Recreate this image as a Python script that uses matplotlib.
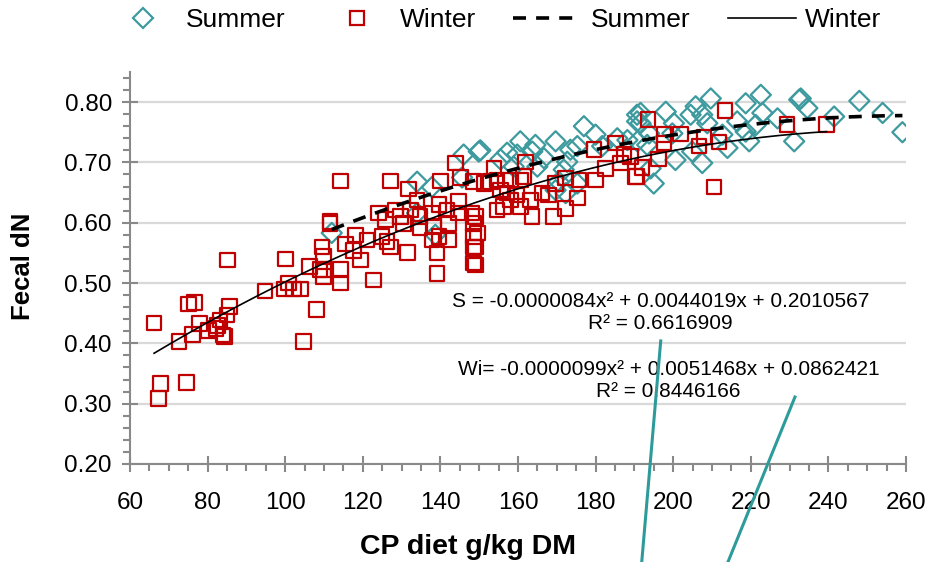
import numpy as np
import matplotlib.pyplot as plt
from matplotlib.lines import Line2D
from matplotlib.ticker import MultipleLocator

plt.rcParams['font.family'] = ['Liberation Sans', 'DejaVu Sans']

# Summer: dietary CP (g/kg DM) and fecal dN
summer_cp = [112.0, 134.0, 137.8, 146.0, 149.9, 145.6, 134.0, 138.7,
             150.3, 155.5, 160.6, 164.5, 163.7, 159.8, 166.7, 169.7, 173.5, 177.0,
             180.0, 175.3, 172.7, 171.8, 170.5, 169.7, 172.3, 185.6, 188.2, 190.7,
             190.7, 181.7, 175.3, 165.0, 157.2, 158.9,
             191.6, 191.6, 198.1, 193.8, 190.8, 193.3, 195.0, 194.2, 200.2, 199.8,
             200.6, 204.5, 205.8, 207.5, 209.7, 208.8, 204.9, 207.5, 212.7, 214.0,
             216.5, 218.7, 218.7, 219.6, 222.6, 223.0, 221.3, 226.9, 231.2, 232.5,
             232.9, 234.6, 241.5, 248.0, 254.0, 259.1]
summer_dn = [0.583, 0.668, 0.659, 0.713, 0.718, 0.675, 0.616, 0.580,
             0.720, 0.705, 0.735, 0.729, 0.718, 0.713, 0.707, 0.735, 0.721, 0.760,
             0.746, 0.727, 0.701, 0.688, 0.668, 0.654, 0.649, 0.740, 0.737, 0.779,
             0.768, 0.727, 0.665, 0.693, 0.716, 0.693,
             0.782, 0.765, 0.784, 0.748, 0.735, 0.729, 0.665, 0.690, 0.765, 0.748,
             0.704, 0.779, 0.793, 0.779, 0.806, 0.765, 0.718, 0.699, 0.746, 0.724,
             0.768, 0.798, 0.751, 0.735, 0.812, 0.782, 0.762, 0.773, 0.735, 0.804,
             0.806, 0.790, 0.776, 0.802, 0.782, 0.750]

# Winter
winter_cp = [66.2, 67.9, 67.3, 74.6, 72.6, 75.1, 76.6, 76.1, 77.9, 80.2, 82.5, 83.2,
             84.3, 84.0, 85.1, 85.7, 85.0, 82.2, 94.8, 100.1, 99.8, 100.9, 102.1, 103.9,
             104.7, 108.0, 106.3, 109.5, 109.9, 109.0, 109.9, 111.6,
             114.2, 127.1, 131.8, 140.0, 143.9, 145.2, 148.6, 111.6, 115.5, 118.1,
             117.6, 119.4, 114.2, 114.2, 109.9, 122.8, 121.1, 124.1, 125.8, 125.0,
             126.2, 127.1, 128.4, 129.7, 130.5, 131.5, 132.3, 134.0, 134.8, 134.8,
             138.3, 137.8, 139.6, 139.6, 137.8, 141.7, 142.1, 142.1, 139.1, 139.1,
             144.7, 144.7, 148.1, 148.6, 148.6, 148.6, 148.6,
             149.0, 149.5, 149.0, 149.0, 153.8, 151.2, 152.9, 154.6, 155.5, 158.1,
             160.6, 161.9, 161.5, 157.2, 154.6, 156.3, 158.1, 159.8, 160.6, 163.6,
             163.2, 166.2, 167.9, 169.7, 169.2, 172.3, 172.3, 175.3, 175.7, 180.0,
             179.6, 182.6, 185.2, 186.5, 187.3, 190.3,
             193.5, 197.6, 197.6, 201.9, 196.3, 192.0, 190.6, 189.0, 206.7, 207.9,
             211.8, 213.4, 210.5, 229.4, 239.5]
winter_dn = [0.434, 0.333, 0.309, 0.335, 0.403, 0.465, 0.468, 0.415, 0.433, 0.421, 0.430, 0.439,
             0.411, 0.414, 0.538, 0.461, 0.447, 0.425, 0.487, 0.540, 0.490, 0.500, 0.490, 0.490,
             0.403, 0.456, 0.527, 0.560, 0.544, 0.522, 0.511, 0.599,
             0.669, 0.669, 0.656, 0.669, 0.699, 0.675, 0.668, 0.602, 0.565, 0.580,
             0.554, 0.538, 0.522, 0.500, 0.522, 0.505, 0.571, 0.616, 0.605, 0.577,
             0.569, 0.560, 0.621, 0.610, 0.599, 0.551, 0.621, 0.638, 0.610, 0.591,
             0.594, 0.571, 0.577, 0.630, 0.616, 0.621, 0.599, 0.571, 0.550, 0.516,
             0.635, 0.616, 0.616, 0.599, 0.577, 0.560, 0.533,
             0.610, 0.583, 0.560, 0.530, 0.690, 0.665, 0.668, 0.671, 0.654, 0.671,
             0.671, 0.701, 0.677, 0.649, 0.621, 0.627, 0.638, 0.646, 0.627, 0.610,
             0.638, 0.649, 0.646, 0.665, 0.610, 0.624, 0.674, 0.641, 0.671, 0.671,
             0.721, 0.690, 0.732, 0.699, 0.713, 0.677,
             0.771, 0.746, 0.732, 0.747, 0.706, 0.692, 0.677, 0.710, 0.727, 0.742,
             0.734, 0.786, 0.659, 0.763, 0.763]

# quadratic trendlines (a, b, c) and R²
summer_fit = [-0.0000084, 0.0044019, 0.2010567]
summer_r2 = 0.6616909
winter_fit = [-0.0000099, 0.0051468, 0.0862421]
winter_r2 = 0.8446166

TEAL = '#3D9A9E'
RED = '#C00000'
GRAY = '#898989'
DASH = (3.6, 2.8)

fig = plt.figure(figsize=(9.32, 5.62), dpi=100)
ax = fig.add_axes([0.1395, 0.1744, 0.8325, 0.6976])

ax.scatter(summer_cp, summer_dn, marker='D', s=105, facecolors='none',
           edgecolors=TEAL, linewidths=1.6, zorder=3)
ax.scatter(winter_cp, winter_dn, marker='s', s=110, facecolors='none',
           edgecolors=RED, linewidths=1.6, zorder=3)

xs = np.linspace(min(summer_cp), max(summer_cp), 200)
ax.plot(xs, np.polyval(summer_fit, xs), color='black', lw=2.6,
        dashes=DASH, zorder=4)
xw = np.linspace(min(winter_cp), max(winter_cp), 200)
ax.plot(xw, np.polyval(winter_fit, xw), color='black', lw=1.2, zorder=4)


def coef(v):
    return f'{v:.7f}'


ax.text(196.8, 0.451,
        f'S = {coef(summer_fit[0])}x² + {coef(summer_fit[1])}x + {coef(summer_fit[2])}\n'
        f'R² = {summer_r2:.7f}',
        ha='center', va='center', multialignment='center', fontsize=15, zorder=5)
ax.text(198.8, 0.338,
        f'Wi= {coef(winter_fit[0])}x² + {coef(winter_fit[1])}x + {coef(winter_fit[2])}\n'
        f'R² = {winter_r2:.7f}',
        ha='center', va='center', multialignment='center', fontsize=15, zorder=5)

# leader lines from the trendline labels
leaders = [((196.8, 0.404), (191.9, 0.037)), ((231.4, 0.311), (214.1, 0.037))]
for (x0, y0), (x1, y1) in leaders:
    ax.plot([x0, x1], [y0, y1], color='#2E9B9B', lw=2.2, clip_on=False, zorder=6)

ax.set_xlim(60, 260)
ax.set_ylim(0.20, 0.85)
ax.xaxis.set_major_locator(MultipleLocator(20))
ax.xaxis.set_minor_locator(MultipleLocator(5))
yticks = [0.2, 0.3, 0.4, 0.5, 0.6, 0.7, 0.8]
ax.set_yticks(yticks)
ax.set_yticklabels([f'{v:.2f}' for v in yticks])
ax.yaxis.set_minor_locator(MultipleLocator(0.02))

for s in ['top', 'right']:
    ax.spines[s].set_visible(False)
for s in ['left', 'bottom']:
    ax.spines[s].set_color(GRAY)
    ax.spines[s].set_linewidth(1.5)

ax.tick_params(which='major', direction='inout', length=11, width=1.5,
               color=GRAY, labelsize=17.5)
ax.tick_params(axis='x', which='major', pad=15)
ax.tick_params(axis='y', which='major', pad=7.5)
ax.tick_params(which='minor', direction='out', length=5, width=1.5, color=GRAY)
ax.grid(axis='y', which='major', color='#D9D9D9', lw=1.6, zorder=0)
ax.set_axisbelow(True)

ax.set_xlabel('CP diet g/kg DM', fontsize=20.5, fontweight='bold')
ax.xaxis.set_label_coords(0.436, -0.178)
ax.set_ylabel('Fecal dN', fontsize=18.5, fontweight='bold')
ax.yaxis.set_label_coords(-0.122, 0.505)

handles = [
    Line2D([], [], ls='none', marker='D', markersize=10, markerfacecolor='none',
           markeredgecolor=TEAL, markeredgewidth=1.6),
    Line2D([], [], ls='none', marker='s', markersize=10.5, markerfacecolor='none',
           markeredgecolor=RED, markeredgewidth=1.6),
    Line2D([], [], color='black', lw=2.6, dashes=DASH),
    Line2D([], [], color='black', lw=1.2),
]
fig.legend(handles, ['Summer', 'Winter', 'Summer', 'Winter'], loc='center',
           bbox_to_anchor=(0.531, 0.964), ncol=4, frameon=False, fontsize=19,
           handlelength=2.6, handletextpad=0.34, columnspacing=1.4)

fig.savefig('out.png', dpi=100)
